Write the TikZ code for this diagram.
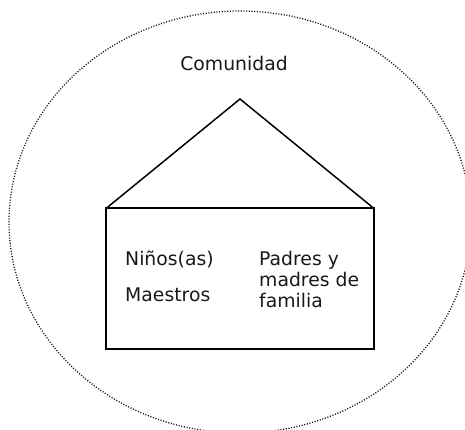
\documentclass[tikz,border=0pt]{standalone}
\usepackage{fontspec}
\setmainfont{DejaVu Sans}
\begin{document}
\begin{tikzpicture}[x=1pt,y=-1pt,
  lbl/.style={anchor=base west,inner sep=0pt,font=\fontsize{18.8}{21}\selectfont,text=black!90},
  wall/.style={line width=2pt,line join=miter},
  roof/.style={line width=1.5pt,line join=miter},
  community/.style={line width=1.3pt,dash pattern=on 1.1pt off 1.6pt,draw=black!90}]
\useasboundingbox (0,0) rectangle (465,430);
\clip (0,0) rectangle (465,430);
\draw[community] (240,222) ellipse [x radius=231pt, y radius=211pt];
\coordinate (tl) at (106,208.5);
\coordinate (tr) at (374,208.5);
\coordinate (br) at (374,348.5);
\coordinate (bl) at (106,348.5);
\coordinate (apex) at (240,99);
\draw[roof] (tl) -- (apex) -- (tr);
\draw[wall] (tl) -- (tr) -- (br) -- (bl) -- cycle;
\node[lbl,anchor=base] (com) at (234,70.5) {Comunidad};
\node[lbl] (ninos) at (125,265) {Niños(as)};
\node[lbl] (maestros) at (125,301) {Maestros};
\node[lbl,align=left] (padres) at (259,307) {Padres y\\madres de\\familia};
\end{tikzpicture}
\end{document}
